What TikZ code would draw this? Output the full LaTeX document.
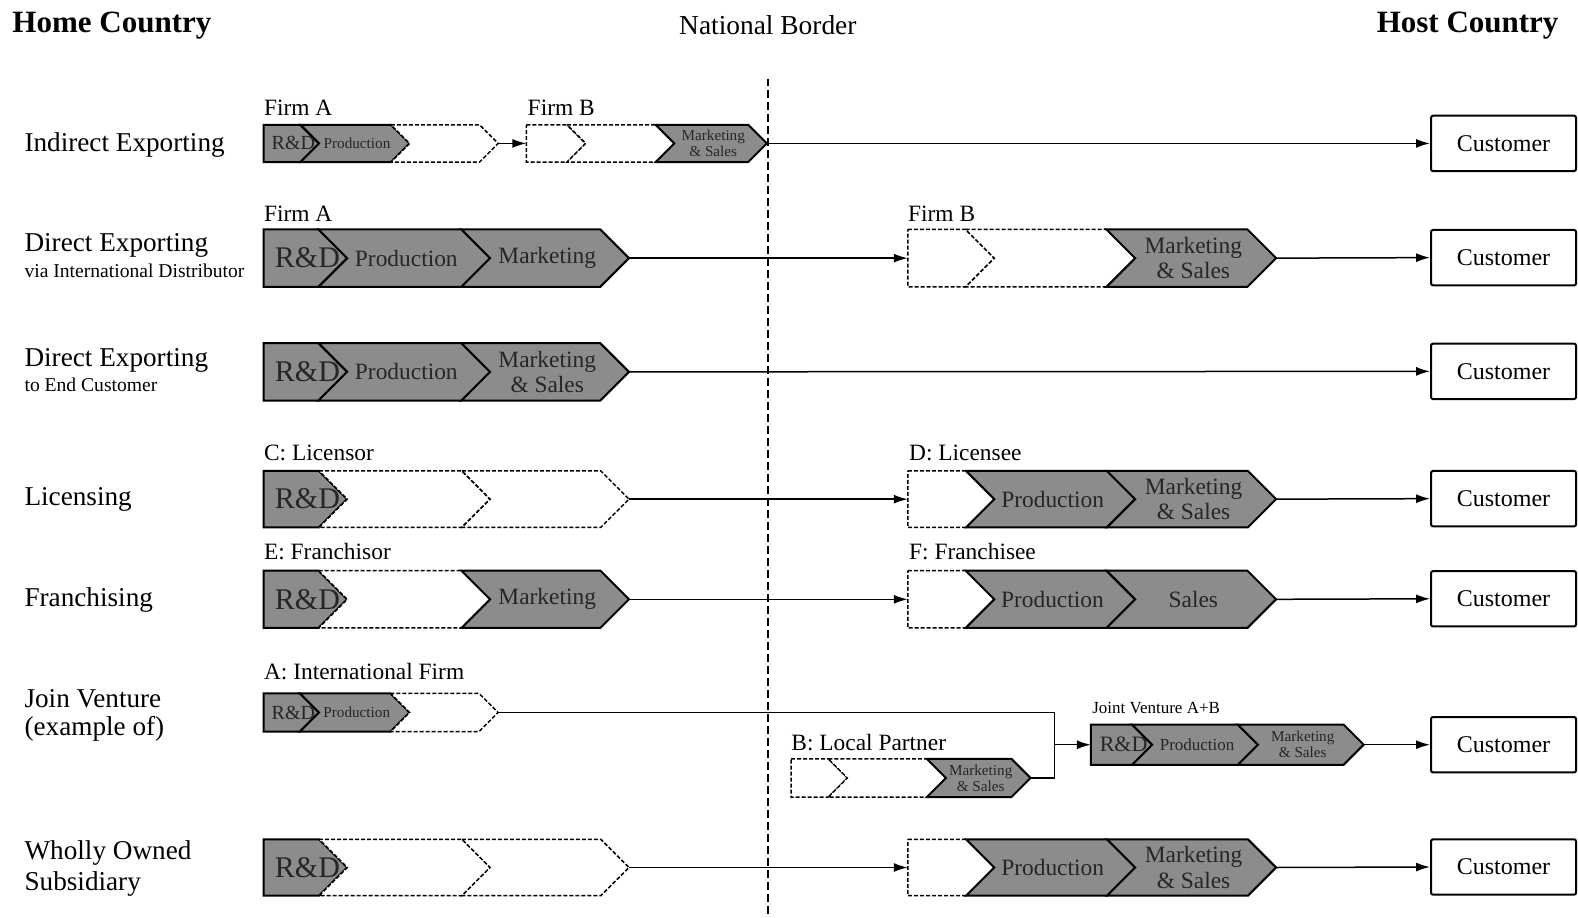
\documentclass[tikz,border=0pt]{standalone}
\usepackage{fontspec}
\setmainfont{Liberation Serif}
\usetikzlibrary{arrows.meta}

% font sizes used inside the value-chain segments
\newcommand\rdbig{\fontsize{15}{15}\selectfont}
\newcommand\segbig{\fontsize{11.7}{12.6}\selectfont}
\newcommand\rdsmall{\fontsize{10}{10}\selectfont}
\newcommand\rdjv{\fontsize{11}{11}\selectfont}
\newcommand\segsmall{\fontsize{7.6}{8}\selectfont}
\newcommand\segjv{\fontsize{8.5}{8.5}\selectfont}

\tikzset{
  gseg/.style={draw=black, line width=1pt, fill=black!45, line join=miter},
  dseg/.style={draw=black, line width=0.75pt, dash pattern=on 2pt off 1pt, fill=white},
  seglabel/.style={inner sep=0pt, align=center, text=black!85},
  conn/.style={line width=0.75pt, -{Latex[length=7pt,width=4.5pt]}},
  cust/.style={draw, line width=1pt, rounded corners=1pt, minimum width=72.5pt,
               minimum height=27.7pt, inner sep=0pt, font=\fontsize{12}{12}\selectfont},
  rowlabel/.style={anchor=west, inner sep=0pt, font=\fontsize{13.6}{13.6}\selectfont},
  sublabel/.style={anchor=west, inner sep=0pt, font=\fontsize{9.8}{9.8}\selectfont},
  firmlabel/.style={anchor=west, inner sep=0pt, font=\fontsize{11.7}{11.7}\selectfont},
  header/.style={inner sep=0pt, font=\fontsize{15.5}{15.5}\selectfont\bfseries},
}

% \chainrow{name}{start x}{centre y}{height}{tip/style/font/label, ...}
\newcommand\chainrow[5]{%
  \foreach \t/\s/\f/\l [count=\i, remember=\t as \p (initially #2)] in {#5} {
    \pgfmathsetmacro\d{#4/2}
    \ifnum\i=1 \edef\bx{#2}\edef\nx{#2}\else \pgfmathsetmacro\bx{\p-\d}\edef\nx{\p}\fi
    \pgfmathsetmacro\tb{\t-\d}
    \pgfmathsetmacro\yt{#3-#4/2}
    \pgfmathsetmacro\yb{#3+#4/2}
    \pgfmathsetmacro\cx{(\bx+\t)/2+2}
    \draw[\s] (\bx,\yt) -- (\tb,\yt) -- (\t,#3) -- (\tb,\yb) -- (\bx,\yb) -- (\nx,#3) -- cycle;
    \node[seglabel, font=\f] (#1-\i) at (\cx,#3) {\l};
    \coordinate (#1-out) at (\t,#3);
  }
  \coordinate (#1-in) at (#2,#3);
}

\begin{document}
\begin{tikzpicture}[x=0.50325pt, y=-0.50325pt]
\useasboundingbox (0,0) rectangle (1568,912);

% headings
\node[header, anchor=west] (home) at (12,25) {Home Country};
\node[inner sep=0pt, font=\fontsize{13.7}{13.7}\selectfont] (border) at (763,25) {National Border};
\node[header, anchor=east] (host) at (1549,25) {Host Country};

% national border
\coordinate (btop) at (763,78);
\coordinate (bbot) at (763,912);
\draw[line width=1pt, dash pattern=on 4pt off 2pt] (btop) -- (bbot);

% row labels
\node[rowlabel] (l1) at (24,144) {Indirect Exporting};
\node[rowlabel] (l2) at (24,244) {Direct Exporting};
\node[sublabel] (l2s) at (24,269) {via International Distributor};
\node[rowlabel] (l3) at (24,358) {Direct Exporting};
\node[sublabel] (l3s) at (24,382) {to End Customer};
\node[rowlabel] (l4) at (24,496) {Licensing};
\node[rowlabel] (l5) at (24,596) {Franchising};
\node[rowlabel] (l6) at (24,694) {Join Venture};
\node[rowlabel] (l6s) at (24,724) {(example of)};
\node[rowlabel] (l7) at (24,848) {Wholly Owned};
\node[rowlabel] (l7s) at (24,878) {Subsidiary};

% firm captions
\node[firmlabel] (f1a) at (262,107) {Firm A};
\node[firmlabel] (f1b) at (524,107) {Firm B};
\node[firmlabel] (f2a) at (262,212) {Firm A};
\node[firmlabel] (f2b) at (902,212) {Firm B};
\node[firmlabel] (f4a) at (262,450) {C: Licensor};
\node[firmlabel] (f4b) at (903,450) {D: Licensee};
\node[firmlabel] (f5a) at (262,548) {E: Franchisor};
\node[firmlabel] (f5b) at (903,548) {F: Franchisee};
\node[firmlabel] (f6a) at (262,667) {A: International Firm};
\node[firmlabel] (f6b) at (786,738) {B: Local Partner};
\node[anchor=west, inner sep=0pt, font=\fontsize{8.5}{8.5}\selectfont] (f6c) at (1085,704) {Joint Venture A+B};

% value chains
\chainrow{r1a}{262}{142.5}{37}{317/gseg/\rdsmall/{R\&D}, 407/gseg/\segsmall/{Production}, 495/dseg/\relax/{}}
\chainrow{r1b}{523}{142.5}{37}{582/dseg/\relax/{}, 670/dseg/\relax/{}, 762/gseg/\segsmall/{Marketing\\\& Sales}}

\chainrow{r2a}{262}{256.5}{57}{345/gseg/\rdbig/{R\&D}, 487/gseg/\segbig/{Production}, 625/gseg/\segbig/{Marketing}}
\chainrow{r2b}{902}{256.5}{57}{988/dseg/\relax/{}, 1128/dseg/\relax/{}, 1268/gseg/\segbig/{Marketing\\\& Sales}}

\chainrow{r3a}{262}{369.5}{57}{345/gseg/\rdbig/{R\&D}, 487/gseg/\segbig/{Production}, 625/gseg/\segbig/{Marketing\\\& Sales}}

\chainrow{r4a}{262}{496}{56}{345/gseg/\rdbig/{R\&D}, 487/dseg/\relax/{}, 625/dseg/\relax/{}}
\chainrow{r4b}{902}{496}{56}{988/dseg/\relax/{}, 1128/gseg/\segbig/{Production}, 1268/gseg/\segbig/{Marketing\\\& Sales}}

\chainrow{r5a}{262}{595.5}{57}{345/gseg/\rdbig/{R\&D}, 487/dseg/\relax/{}, 625/gseg/\segbig/{Marketing}}
\chainrow{r5b}{902}{595.5}{57}{988/dseg/\relax/{}, 1128/gseg/\segbig/{Production}, 1268/gseg/\segbig/{Sales}}

\chainrow{r6a}{262}{708}{38}{317/gseg/\rdsmall/{R\&D}, 407/gseg/\segsmall/{Production}, 495/dseg/\relax/{}}
\chainrow{r6b}{786}{773}{38}{842/dseg/\relax/{}, 940/dseg/\relax/{}, 1024/gseg/\segsmall/{Marketing\\\& Sales}}
\chainrow{r6c}{1084}{740}{40}{1145/gseg/\rdjv/{R\&D}, 1250/gseg/\segjv/{Production}, 1355/gseg/\segsmall/{Marketing\\\& Sales}}

\chainrow{r7a}{262}{862}{56}{345/gseg/\rdbig/{R\&D}, 487/dseg/\relax/{}, 625/dseg/\relax/{}}
\chainrow{r7b}{902}{862}{56}{988/dseg/\relax/{}, 1128/gseg/\segbig/{Production}, 1268/gseg/\segbig/{Marketing\\\& Sales}}

% customers
\node[cust] (c1) at (1494,142.5) {Customer};
\node[cust] (c2) at (1494,256) {Customer};
\node[cust] (c3) at (1494,369) {Customer};
\node[cust] (c4) at (1494,495.5) {Customer};
\node[cust] (c5) at (1494,595) {Customer};
\node[cust] (c6) at (1494,740) {Customer};
\node[cust] (c7) at (1494,861.5) {Customer};

% connectors
\draw[conn] (r1a-out) -- (r1b-in);
\draw[conn] (r1b-out) -- (c1.west);
\draw[conn] (r2a-out) -- (r2b-in);
\draw[conn] (r2b-out) -- (c2.west);
\draw[conn] (r3a-out) -- (c3.west);
\draw[conn] (r4a-out) -- (r4b-in);
\draw[conn] (r4b-out) -- (c4.west);
\draw[conn] (r5a-out) -- (r5b-in);
\draw[conn] (r5b-out) -- (c5.west);

% joint venture: both partners merge into one chain
\coordinate (jtop) at (1048,708);
\coordinate (jbot) at (1048,773);
\coordinate (jmid) at (1048,740);
\draw[line width=0.75pt] (r6a-out) -- (jtop) -- (jbot) -- (r6b-out);
\draw[conn] (jmid) -- (r6c-in);
\draw[conn] (r6c-out) -- (c6.west);

\draw[conn] (r7a-out) -- (r7b-in);
\draw[conn] (r7b-out) -- (c7.west);
\end{tikzpicture}
\end{document}
